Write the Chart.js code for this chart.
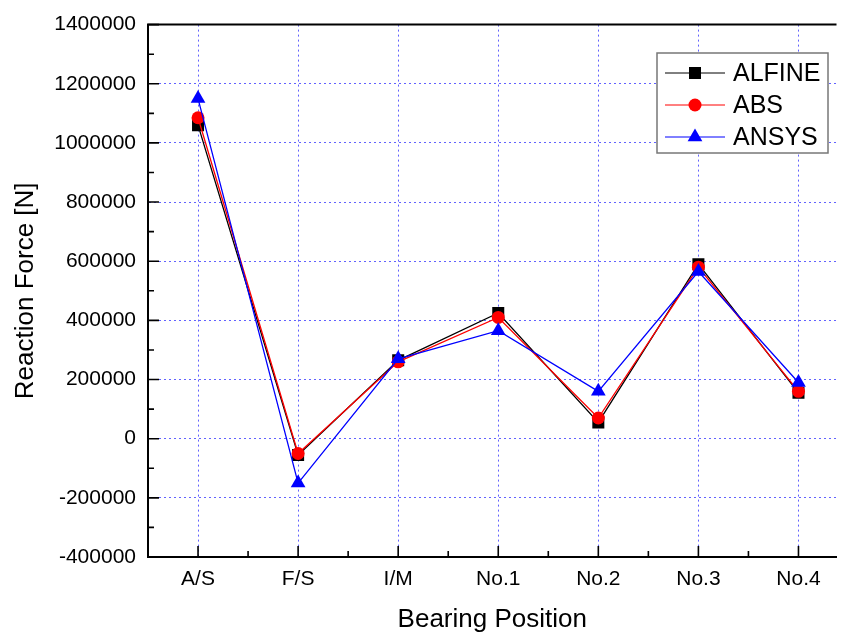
<!DOCTYPE html>
<html>
<head>
<meta charset="utf-8">
<script src="https://cdn.jsdelivr.net/npm/chart.js@4.4.1/dist/chart.umd.min.js"></script>
<style>
    body { margin: 0; background: #fff; }
    #wrap { width: 845px; height: 636px; }
</style>
</head>
<body>
<div id="wrap"><canvas id="lineChart" width="845" height="636"></canvas></div>
<script>
const categories = ['A/S', 'F/S', 'I/M', 'No.1', 'No.2', 'No.3', 'No.4'];
const alfineValues = [1060000, -55000, 265000, 425000, 55000, 590000, 155000];
const absValues = [1085000, -50000, 260000, 410000, 70000, 580000, 160000];
const ansysValues = [1150000, -150000, 270000, 365000, 160000, 565000, 190000];
const yMin = -400000;
const yMax = 1400000;
const yStep = 200000;

const fontFamily = '"Liberation Sans", Arial, sans-serif';
const gridColor = 'rgba(70, 70, 255, 0.85)';
const gridDash = [2, 3];

function toPoints(values) {
    return values.map((v, i) => ({ x: i, y: v }));
}

const seriesList = [
    { label: 'ALFINE', data: alfineValues, color: '#000000', style: 'rect', radius: 8.5, order: 2 },
    { label: 'ABS', data: absValues, color: '#ff0000', style: 'circle', radius: 6.5, order: 1 },
    { label: 'ANSYS', data: ansysValues, color: '#0000ff', style: 'triangle', radius: 8.5, order: 0 }
];

// inward ticks + top frame line, like the original plot
const framePlugin = {
    id: 'frame',
    afterDraw(chart) {
        const ctx = chart.ctx;
        const area = chart.chartArea;
        const xs = chart.scales.x;
        const ys = chart.scales.y;
        ctx.save();
        ctx.setLineDash([]);
        ctx.strokeStyle = '#000';
        ctx.lineWidth = 2;
        ctx.beginPath();
        ctx.moveTo(area.left - 1, area.top);
        ctx.lineTo(area.right, area.top);
        ctx.stroke();

        ctx.lineWidth = 1.6;
        ctx.beginPath();
        for (let v = yMin; v <= yMax; v += yStep / 2) {
            const y = ys.getPixelForValue(v);
            const len = (v - yMin) % yStep === 0 ? 11 : 6;
            ctx.moveTo(area.left, y);
            ctx.lineTo(area.left + len, y);
        }
        for (let i = 0; i < categories.length; i++) {
            const x = xs.getPixelForValue(i);
            ctx.moveTo(x, area.bottom);
            ctx.lineTo(x, area.bottom - 11);
            if (i < categories.length - 1) {
                const xm = xs.getPixelForValue(i + 0.5);
                ctx.moveTo(xm, area.bottom);
                ctx.lineTo(xm, area.bottom - 6);
            }
        }
        ctx.stroke();
        ctx.restore();
    }
};

const legendBoxPlugin = {
    id: 'legendBox',
    afterDraw(chart) {
        const ctx = chart.ctx;
        const box = { left: 657, top: 53, width: 171, height: 100 };
        ctx.save();
        ctx.setLineDash([]);
        ctx.fillStyle = '#fff';
        ctx.fillRect(box.left, box.top, box.width, box.height);
        ctx.strokeStyle = '#777';
        ctx.lineWidth = 1.5;
        ctx.strokeRect(box.left, box.top, box.width, box.height);

        ctx.font = '25px ' + fontFamily;
        ctx.textBaseline = 'middle';
        seriesList.forEach((s, i) => {
            const y = box.top + 20 + i * 32;
            ctx.strokeStyle = s.color;
            ctx.lineWidth = 1;
            ctx.beginPath();
            ctx.moveTo(box.left + 8, y);
            ctx.lineTo(box.left + 68, y);
            ctx.stroke();
            ctx.fillStyle = s.color;
            Chart.helpers.drawPoint(ctx, {
                pointStyle: s.style, radius: s.radius, rotation: 0, borderWidth: 0
            }, box.left + 38, y);
            ctx.fillStyle = '#000';
            ctx.fillText(s.label, box.left + 76, y + 1);
        });
        ctx.restore();
    }
};

const datasets = seriesList.map(s => ({
    label: s.label,
    data: toPoints(s.data),
    borderColor: s.color,
    backgroundColor: s.color,
    borderWidth: 1.3,
    pointStyle: s.style,
    pointRadius: s.radius,
    pointBorderWidth: 0,
    pointBackgroundColor: s.color,
    order: s.order,
    tension: 0
}));

const ctx = document.getElementById('lineChart').getContext('2d');
new Chart(ctx, {
    type: 'line',
    data: { datasets: datasets },
    options: {
        responsive: false,
        animation: false,
        layout: { padding: { top: 21, right: 0, left: 0, bottom: 0 } },
        plugins: {
            legend: { display: false },
            tooltip: { enabled: false }
        },
        scales: {
            x: {
                type: 'linear',
                min: -0.5,
                max: 6.38,
                afterBuildTicks: scale => {
                    scale.ticks = categories.map((_, i) => ({ value: i }));
                },
                afterFit: scale => { scale.height = 79; },
                ticks: {
                    callback: v => categories[v],
                    color: '#000',
                    font: { family: fontFamily, size: 21 },
                    padding: 10,
                    maxRotation: 0,
                    autoSkip: false
                },
                grid: { color: gridColor, lineWidth: 1, drawTicks: false, borderDash: gridDash },
                border: { display: true, color: '#000', width: 2, dash: gridDash },
                title: {
                    display: true,
                    text: 'Bearing Position',
                    color: '#000',
                    font: { family: fontFamily, size: 26 },
                    padding: { top: 0, bottom: 1 }
                }
            },
            y: {
                min: yMin,
                max: yMax,
                afterFit: scale => { scale.width = 148; },
                ticks: {
                    stepSize: yStep,
                    callback: v => String(v),
                    color: '#000',
                    font: { family: fontFamily, size: 21 },
                    padding: 12
                },
                grid: { color: gridColor, lineWidth: 1, drawTicks: false, borderDash: gridDash },
                border: { display: true, color: '#000', width: 2, dash: gridDash },
                title: {
                    display: true,
                    text: 'Reaction Force [N]',
                    color: '#000',
                    font: { family: fontFamily, size: 26 },
                    padding: { top: 10, bottom: 0 }
                }
            }
        }
    },
    plugins: [framePlugin, legendBoxPlugin]
});
</script>
</body>
</html>
